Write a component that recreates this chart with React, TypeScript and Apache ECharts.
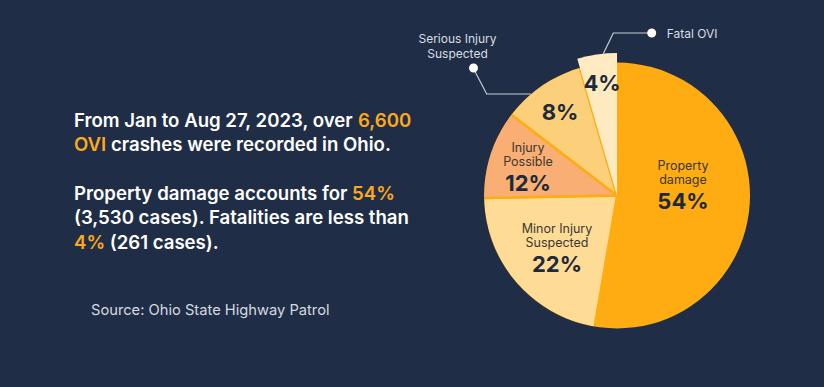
import React, { useEffect, useRef } from 'react';
import * as echarts from 'echarts';

// ---- data ----
const categories = ['Property damage', 'Minor Injury Suspected', 'Injury Possible', 'Serious Injury Suspected', 'Fatal OVI'];
const sliceShares = [52.7, 22.0, 10.7, 10.1, 4.5];
const percentLabels = ['54%', '22%', '12%', '8%', '4%'];
const insideNameLines = [['Property', 'damage'], ['Minor Injury', 'Suspected'], ['Injury', 'Possible'], [], []];
const outsideNameLines = [[], [], [], ['Serious Injury', 'Suspected'], ['Fatal OVI']];
const introLines = [
  'From Jan to Aug 27, 2023, over {o|6,600}',
  '{o|OVI} crashes were recorded in Ohio.',
  'Property damage accounts for {o|54%}',
  '(3,530 cases). Fatalities are less than',
  '{o|4%} (261 cases).',
];
const sourceText = 'Source: Ohio State Highway Patrol';

// ---- styles / layout ----
const BG = '#1F2E46';
const ORANGE = '#FFAC13';
const sliceColors = ['#FFAC13', '#FFDC96', '#F9AE73', '#FCCF7A', '#FFEAC1'];
const CX = 617;
const CY = 195.5;
const R = 133;
const R_FATAL = 142.5;
const FONT = 'Inter';
const INTRO_SIZE = 18.6;
const insideLabelPos = [[683, 186.5], [557, 249.5], [528, 168.5], [560, 112], [602, 82.5]];
const introLineY = [120, 144, 192.5, 217, 241.5];

const insideRich = {
  n: { fontFamily: FONT, fontSize: 12.5, color: '#3A3833', lineHeight: 14 },
  p: { fontFamily: FONT, fontSize: 22, fontWeight: 700, color: '#1E2A3B', lineHeight: 29 },
};

function insideFormatter(p: any) {
  const lines = insideNameLines[p.dataIndex].map((l) => `{n|${l}}`);
  lines.push(`{p|${percentLabels[p.dataIndex]}}`);
  return lines.join('\n');
}

function insideLayout(p: any) {
  const pos = insideLabelPos[p.dataIndex];
  return { x: pos[0], y: pos[1], align: 'center', verticalAlign: 'middle' };
}

function outsideFormatter(p: any) {
  const lines = outsideNameLines[p.dataIndex];
  if (p.dataIndex === 3) return lines.map((l) => `{t|${l}}`).join('\n') + '\n{sp|}{dot|}';
  return `{dot|}{gap|}{t|${lines[0]}}`;
}

function outsideLayout(p: any) {
  if (p.dataIndex === 3) {
    const yLine = 94;
    const sx = CX - Math.sqrt(R * R - (CY - yLine) * (CY - yLine));
    return {
      x: 457.5, y: 31.5, align: 'center', verticalAlign: 'top',
      labelLinePoints: [[sx, yLine], [486.7, yLine], [473.3, 68.3]],
    };
  }
  const sxF = 603.3;
  const syF = CY - Math.sqrt(R_FATAL * R_FATAL - (CX - sxF) * (CX - sxF));
  return {
    x: 647.2, y: 33, align: 'left', verticalAlign: 'middle',
    labelLinePoints: [[sxF, syF], [613.3, 33], [651.7, 33]],
  };
}

export default function App() {
  const ref = useRef<HTMLDivElement>(null);
  useEffect(() => {
    if (!ref.current) return;
    const chart = echarts.init(ref.current, undefined, { renderer: 'svg' });
    const transparent = 'rgba(0,0,0,0)';
    const option: any = {
      animation: false,
      backgroundColor: BG,
      tooltip: { show: false },
      graphic: [
        ...introLines.map((line, i) => ({
          type: 'text',
          x: 74,
          y: introLineY[i],
          silent: true,
          style: {
            text: line,
            fill: '#FFFFFF',
            fontFamily: FONT,
            fontSize: INTRO_SIZE,
            fontWeight: 600,
            verticalAlign: 'middle',
            textVerticalAlign: 'middle',
            rich: { o: { fill: '#FFA91A', fontFamily: FONT, fontSize: INTRO_SIZE, fontWeight: 600 } },
          },
        })),
        {
          type: 'text',
          x: 91,
          y: 309.5,
          silent: true,
          style: {
            text: sourceText,
            fill: '#D5D9E0',
            fontFamily: FONT,
            fontSize: 14.7,
            verticalAlign: 'middle',
            textVerticalAlign: 'middle',
          },
        },
      ],
      series: [
        {
          type: 'pie',
          silent: true,
          center: [CX, CY],
          radius: R + 1,
          startAngle: 90,
          avoidLabelOverlap: false,
          itemStyle: { borderColor: ORANGE, borderWidth: 2.4 },
          label: { show: true, position: 'inside', formatter: insideFormatter, rich: insideRich },
          labelLine: { show: false },
          labelLayout: insideLayout,
          data: categories.map((name, i) => ({
            name,
            value: sliceShares[i],
            itemStyle: { color: sliceColors[i] },
            label: { show: i < 4 },
          })),
        },
        {
          type: 'pie',
          silent: true,
          center: [CX, CY],
          radius: [R, R + 9],
          label: { show: false },
          labelLine: { show: false },
          itemStyle: { color: BG, borderWidth: 0 },
          data: [{ name: 'cover', value: 1 }],
        },
        {
          type: 'pie',
          silent: true,
          center: [CX, CY],
          radius: R_FATAL,
          startAngle: 90,
          avoidLabelOverlap: false,
          label: { show: false, position: 'inside', formatter: insideFormatter, rich: insideRich },
          labelLine: { show: false },
          labelLayout: insideLayout,
          data: categories.map((name, i) => ({
            name,
            value: sliceShares[i],
            itemStyle: i === 4
              ? { color: sliceColors[i], borderWidth: 0 }
              : { color: transparent, borderWidth: 0 },
            label: { show: i === 4 },
          })),
        },
        {
          type: 'pie',
          silent: true,
          z: 5,
          center: [CX, CY],
          radius: R,
          startAngle: 90,
          avoidLabelOverlap: false,
          itemStyle: { color: transparent, borderWidth: 0 },
          label: {
            show: false,
            position: 'outside',
            formatter: outsideFormatter,
            rich: {
              t: { fontFamily: FONT, fontSize: 12, color: '#D9DDE3', lineHeight: 14.5 },
              sp: { width: 32, height: 9, lineHeight: 15 },
              gap: { width: 10.5, height: 9 },
              dot: { width: 9, height: 9, backgroundColor: '#FFFFFF', borderRadius: 4.5, lineHeight: 15 },
            },
          },
          labelLine: { show: false, length: 10, length2: 10, lineStyle: { color: '#C5CBD3', width: 1.2 } },
          labelLayout: outsideLayout,
          data: categories.map((name, i) => ({
            name,
            value: sliceShares[i],
            label: { show: i >= 3 },
            labelLine: { show: i >= 3 },
          })),
        },
      ],
    };
    chart.setOption(option);
    return () => chart.dispose();
  }, []);
  return (
    <div style={{ position: 'fixed', left: 0, top: 0, width: 824, height: 387, background: BG }}>
      <div ref={ref} style={{ width: 824, height: 387 }} />
    </div>
  );
}
